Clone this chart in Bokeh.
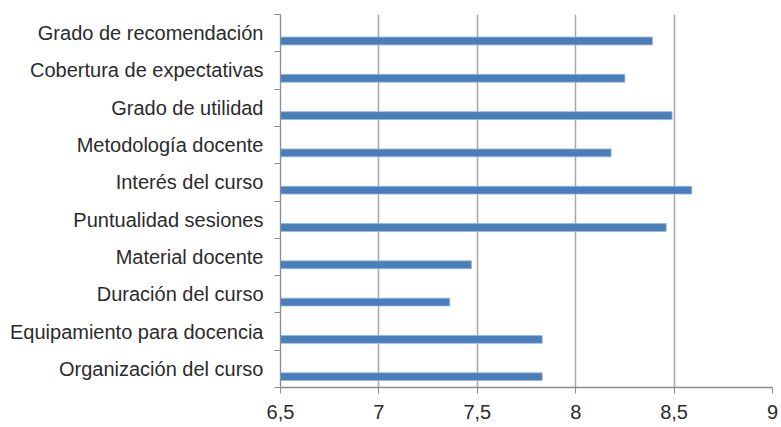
from bokeh.plotting import figure
from bokeh.models import ColumnDataSource, FixedTicker, Range1d
from bokeh.embed import file_html
from bokeh.resources import INLINE

categories = ["Grado de recomendación", "Cobertura de expectativas", "Grado de utilidad",
              "Metodología docente", "Interés del curso", "Puntualidad sesiones",
              "Material docente", "Duración del curso", "Equipamiento para docencia",
              "Organización del curso"]
values = [8.39, 8.25, 8.49, 8.18, 8.59, 8.46, 7.47, 7.36, 7.83, 7.83]
x_ticks = [6.5, 7, 7.5, 8, 8.5, 9]
x_tick_labels = ["6,5", "7", "7,5", "8", "8,5", "9"]

n = len(categories)
centers = [n - 0.5 - i for i in range(n)]
bar_y = [c - 0.21 for c in centers]

src = ColumnDataSource(dict(y=bar_y, right=values, left=[6.5] * n, cat=categories))

p = figure(width=781, height=427, output_backend="svg", toolbar_location=None,
           x_range=Range1d(6.5, 9.0), y_range=Range1d(0, n),
           min_border_left=280, min_border_right=9, min_border_top=14, min_border_bottom=40)
p.outline_line_color = None
p.background_fill_color = "white"

p.hbar(y="y", left="left", right="right", height=0.21, source=src,
       fill_color="#4a7ebb", line_color="#9ab7dc", line_width=0.8)

# x axis
p.xaxis.ticker = FixedTicker(ticks=x_ticks)
p.xaxis.major_label_overrides = {t: l for t, l in zip(x_ticks, x_tick_labels)}
p.xaxis.major_label_overrides.update({float(t): l for t, l in zip(x_ticks, x_tick_labels)})
p.xaxis.major_label_text_font = "Liberation Sans"
p.xaxis.major_label_text_font_size = "20px"
p.xaxis.major_label_text_color = "#2b2b2b"
p.xaxis.axis_line_color = "#8c8c8c"
p.xaxis.axis_line_width = 1.3
p.xaxis.major_tick_line_color = "#8c8c8c"
p.xaxis.major_tick_out = 6
p.xaxis.major_tick_in = 0
p.xaxis.minor_tick_line_color = None
p.xaxis.major_label_standoff = 11

# y axis
p.yaxis.ticker = FixedTicker(ticks=centers, minor_ticks=list(range(0, n + 1)))
p.yaxis.major_label_overrides = {c: cat for c, cat in zip(centers, categories)}
p.yaxis.major_label_text_font = "Liberation Sans"
p.yaxis.major_label_text_font_size = "20px"
p.yaxis.major_label_text_color = "#2b2b2b"
p.yaxis.axis_line_color = "#8c8c8c"
p.yaxis.axis_line_width = 1.3
p.yaxis.major_tick_line_color = None
p.yaxis.major_tick_out = 0
p.yaxis.major_tick_in = 0
p.yaxis.minor_tick_line_color = "#8c8c8c"
p.yaxis.minor_tick_out = 6
p.yaxis.minor_tick_in = 0
p.yaxis.major_label_standoff = 11

p.xgrid.ticker = FixedTicker(ticks=[7, 7.5, 8, 8.5, 9])
p.xgrid.grid_line_color = "#a6a6a6"
p.xgrid.grid_line_width = 1.5
p.ygrid.grid_line_color = None

open("out.html", "w").write(file_html(p, INLINE))
